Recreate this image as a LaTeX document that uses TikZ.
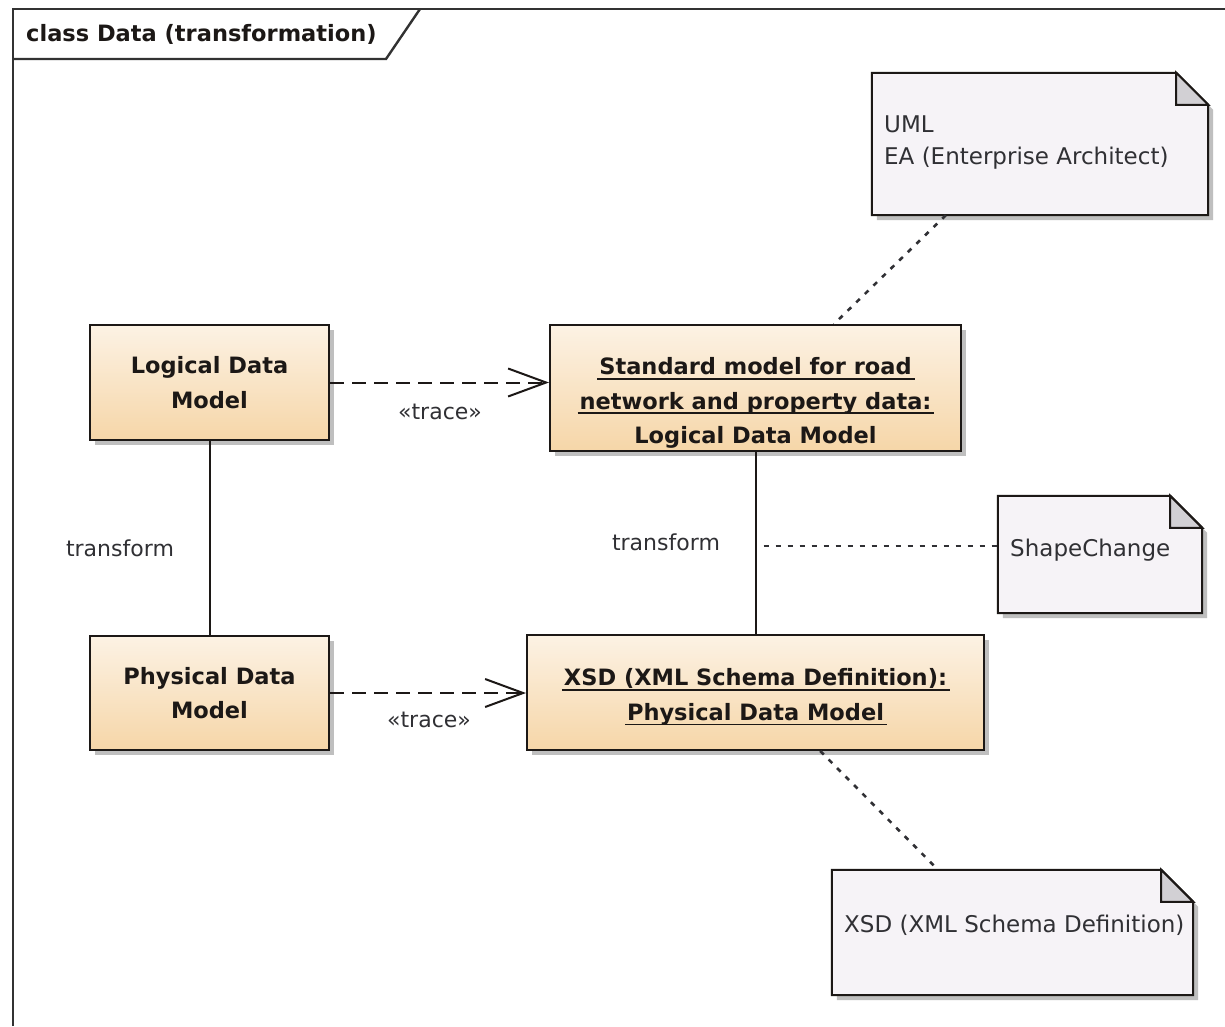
\documentclass[tikz,border=0pt]{standalone}
\usepackage{fontspec}
\setmainfont{DejaVu Sans}
\usetikzlibrary{arrows.meta,shadows,calc}

\definecolor{boxtop}{RGB}{252,242,228}
\definecolor{boxbot}{RGB}{246,214,168}
\definecolor{notefill}{RGB}{246,243,247}
\definecolor{foldfill}{RGB}{210,208,212}
\definecolor{ink}{RGB}{28,24,22}
\definecolor{softink}{RGB}{48,48,52}
\definecolor{shadowgray}{RGB}{140,140,140}
\definecolor{framegray}{RGB}{50,50,50}

% underlined line of an instance name (the rule adds no depth)
\newcommand\instline[1]{\setbox0\hbox{#1}\rlap{\hspace{-2pt}\smash{\raisebox{-5pt}{\rule{\dimexpr\wd0+5pt\relax}{1.7pt}}}}\box0}

% UML note sheet with a folded top-right corner, drawn around an empty node
\newcommand\notesheet[1]{%
  \fill[shadowgray,opacity=0.55]
    ($(#1.north west)+(5,5)$) -- ($(#1.north east)+(-27,5)$) -- ($(#1.north east)+(5,37)$)
    -- ($(#1.south east)+(5,5)$) -- ($(#1.south west)+(5,5)$) -- cycle;
  \filldraw[notebody]
    (#1.north west) -- ($(#1.north east)+(-32,0)$) -- ($(#1.north east)+(0,32)$)
    -- (#1.south east) -- (#1.south west) -- cycle;
  \filldraw[notefold]
    ($(#1.north east)+(-32,0)$) -- ($(#1.north east)+(-32,32)$) -- ($(#1.north east)+(0,32)$) -- cycle;
}

\tikzset{
  classbox/.style={draw=ink, line width=2pt, top color=boxtop, bottom color=boxbot,
    inner sep=0pt, align=center, text=ink,
    font=\bfseries\fontsize{22.5}{34.5}\selectfont,
    drop shadow={shadow xshift=5pt, shadow yshift=-5pt, fill=shadowgray, opacity=0.55}},
  notearea/.style={inner sep=0pt},
  notebody/.style={draw=ink, line width=2pt, fill=notefill},
  notefold/.style={draw=ink, line width=2pt, fill=foldfill},
  notetext/.style={inner sep=0pt, align=left, text=softink,
    font=\fontsize{23}{32}\selectfont},
  edgelabel/.style={inner sep=0pt, text=softink, font=\fontsize{22}{28}\selectfont},
  trace/.style={draw=ink, line width=2pt, dash pattern=on 14pt off 8pt,
    -{Straight Barb[length=38pt, width=28pt, line width=2pt]}},
  realize/.style={draw=ink, line width=2pt},
  notelink/.style={draw=softink, line width=2.6pt, dash pattern=on 5pt off 7pt}
}

\begin{document}
\begin{tikzpicture}[x=1pt, y=-1pt]
  \useasboundingbox (0,0) rectangle (1225,1026);
  \fill[white] (0,0) rectangle (1225,1026);

  % diagram frame and its name tab
  \draw[framegray, line width=2.4pt] (13,1026) -- (13,9) -- (1225,9);
  \draw[framegray, line width=2.4pt] (13,59) -- (386,59) -- (420,9);
  \node[anchor=west, inner sep=0pt, text=ink, font=\bfseries\fontsize{22.5}{26}\selectfont]
    (frametitle) at (26,34) {class Data (transformation)};

  % classes and instances
  \node[classbox, minimum width=239, minimum height=115] (ldm) at (209.5,382.5)
    {Logical Data\\Model};
  \node[classbox, minimum width=239, minimum height=114] (pdm) at (209.5,693)
    {Physical Data\\Model};
  \node[classbox, minimum width=411, minimum height=126] (stdm) at (755.5,388)
    {\rule{0pt}{47pt}\instline{Standard model for road}\\\instline{network and property data:}\\Logical Data Model};
  \node[classbox, minimum width=457, minimum height=115] (xsd) at (755.5,692.5)
    {\rule{0pt}{26pt}\instline{XSD (XML Schema Definition):}\\\instline{Physical Data Model}};

  % notes
  \node[notearea, minimum width=336, minimum height=142] (umlnote) at (1040,144) {};
  \notesheet{umlnote}
  \node[notetext, anchor=west] (umltext) at (884,143) {UML\\EA (Enterprise Architect)};

  \node[notearea, minimum width=204, minimum height=117] (scnote) at (1100,554.5) {};
  \notesheet{scnote}
  \node[notetext, anchor=west] (sctext) at (1010,550) {ShapeChange};

  \node[notearea, minimum width=361, minimum height=125] (xsdnote) at (1012.5,932.5) {};
  \notesheet{xsdnote}
  \node[notetext, anchor=west] (xsdtext) at (844,925) {XSD (XML Schema Definition)};

  % trace dependencies
  \draw[trace] (ldm.east) -- (ldm.east -| stdm.west);
  \node[edgelabel] (trace1) at (440,412) {«trace»};
  \draw[trace] (pdm.east) -- (pdm.east -| xsd.west);
  \node[edgelabel] (trace2) at (429,720) {«trace»};

  % transformations
  \draw[realize] (ldm.south) -- (pdm.north);
  \node[edgelabel] (tf1) at (120,548) {transform};
  \draw[realize] (stdm.south) -- (stdm.south |- xsd.north);
  \node[edgelabel] (tf2) at (666,542) {transform};
  \coordinate (tf2mid) at ($(stdm.south)!0.5!(stdm.south |- xsd.north)$);

  % note attachments
  \draw[notelink] ($(umlnote.south west)!0.22!(umlnote.south east)$)
    -- ($(stdm.north west)!0.69!(stdm.north east)$);
  \draw[notelink] ([xshift=8pt,yshift=-3pt]tf2mid) -- ([yshift=-3pt]tf2mid -| scnote.west);
  \draw[notelink] ($(xsd.south west)!0.641!(xsd.south east)$)
    -- ($(xsdnote.north west)!0.294!(xsdnote.north east)$);
\end{tikzpicture}
\end{document}
